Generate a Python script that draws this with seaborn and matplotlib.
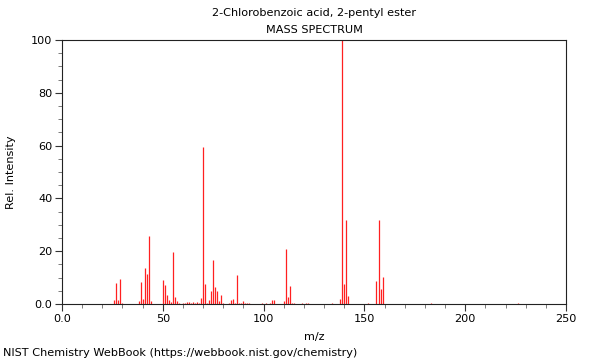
import matplotlib
matplotlib.use("Agg")
import matplotlib.pyplot as plt
import matplotlib.ticker as ticker
import numpy as np
import pandas as pd
import seaborn as sns

# peak list (m/z, relative intensity)
mz = [26, 27, 28, 29, 30,
      38, 39, 40, 41, 42, 43, 44,
      50, 51, 52, 53, 54, 55, 56, 57, 58,
      60, 61, 62, 63, 64, 65, 66, 67, 68, 69, 70, 71, 72, 73, 74, 75, 76, 77, 78, 79, 80,
      83, 84, 85, 86, 87, 88, 89, 90, 91, 92, 93,
      99, 101, 103, 104, 105, 110, 111, 112, 113, 114, 115, 119, 121, 122,
      134, 138, 139, 140, 141, 142, 152, 156, 157, 158, 159, 183, 226]
intensity = [1.5, 8.1, 1.5, 9.5, 0.5,
             1.0, 8.5, 2.0, 13.6, 11.4, 25.9, 1.0,
             9.1, 7.3, 3.4, 1.5, 0.7, 19.7, 2.5, 1.2, 0.5,
             0.5, 0.5, 0.7, 0.7, 0.5, 0.8, 0.5, 0.7, 0.5, 2.4, 59.6, 7.6, 0.5, 1.5, 4.8, 16.7, 6.4, 4.9, 1.0, 3.4, 0.5,
             0.5, 1.5, 1.9, 0.5, 11.0, 0.5, 0.5, 1.0, 0.5, 0.5, 0.3,
             0.5, 0.3, 0.5, 1.6, 1.6, 1.2, 20.7, 2.8, 6.9, 0.5, 0.3, 0.3, 0.3, 0.3,
             0.3, 2.0, 100.0, 7.5, 31.8, 3.1, 0.3, 8.8, 31.8, 5.8, 10.3, 0.3, 0.3]

title_name = "2-Chlorobenzoic acid, 2-pentyl ester"
title_kind = "MASS SPECTRUM"
footer = "NIST Chemistry WebBook (https://webbook.nist.gov/chemistry)"

df = pd.DataFrame({"mz": mz, "intensity": intensity})

sns.set_style("ticks")
plt.rcParams["font.family"] = ["DejaVu Sans"]
plt.rcParams["font.size"] = 8.15
plt.rcParams["text.color"] = "black"
plt.rcParams["axes.labelcolor"] = "black"
plt.rcParams["xtick.labelcolor"] = "black"
plt.rcParams["ytick.labelcolor"] = "black"

fig = plt.figure(figsize=(6, 3.6), dpi=100)
ax = fig.add_axes([62 / 600, 56 / 360, 504 / 600, 264 / 360])

# stick spectrum
ax.vlines(df["mz"], 0, df["intensity"], color="#ff2020", linewidth=0.9)

ax.set_xlim(0, 250)
ax.set_ylim(0, 100)
ax.xaxis.set_major_locator(ticker.MultipleLocator(50))
ax.xaxis.set_minor_locator(ticker.MultipleLocator(10))
ax.yaxis.set_major_locator(ticker.MultipleLocator(20))
ax.yaxis.set_minor_locator(ticker.MultipleLocator(5))
fmt = ticker.FuncFormatter(lambda v, p: "0.0" if v == 0 else f"{v:g}")
ax.xaxis.set_major_formatter(fmt)
ax.yaxis.set_major_formatter(fmt)
ax.tick_params(which="major", length=5, width=0.8, color="#333333", labelsize=8.15, pad=2)
ax.tick_params(which="minor", length=3, width=0.6, color="#666666")
for s in ax.spines.values():
    s.set_linewidth(0.8)
    s.set_color("#222222")

ax.set_xlabel("m/z", fontsize=8.15, labelpad=6)
ax.set_ylabel("Rel. Intensity", fontsize=8.15, labelpad=11)

fig.text(314 / 600, 1 - 13 / 360, title_name, ha="center", va="center", fontsize=8.15)
fig.text(314 / 600, 1 - 30 / 360, title_kind, ha="center", va="center", fontsize=8.15)
fig.text(3 / 600, 1 - 353 / 360, footer, ha="left", va="center", fontsize=8.15)

fig.savefig("out.png", dpi=100)
